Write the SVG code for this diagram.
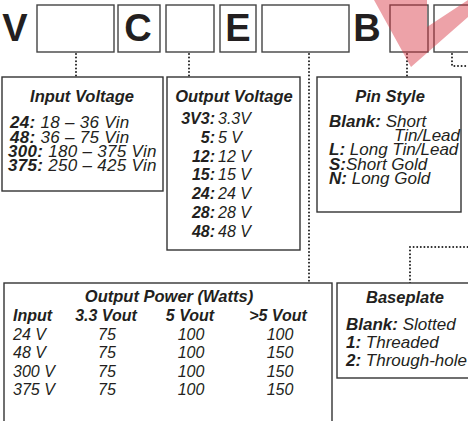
<svg xmlns="http://www.w3.org/2000/svg" width="468" height="421" viewBox="0 0 468 421">
<style>
.box{fill:#fff;stroke:#333;stroke-width:1.4}
.tb{fill:none;stroke:#444;stroke-width:1.4}
.big{font-family:"Liberation Sans",Arial,sans-serif;font-weight:bold;font-size:38px;fill:#231f20;text-anchor:middle}
.t{font-family:"Liberation Sans",Arial,sans-serif;font-size:16px;fill:#231f20}
.l{font-size:17px}
.ti{font-weight:bold;font-style:italic;font-size:16.5px;text-anchor:middle}
.b{font-weight:bold;font-style:italic}
.i{font-style:italic}
.m{text-anchor:middle}
.e{text-anchor:end}
.dot{fill:none;stroke:#222;stroke-width:2;stroke-dasharray:0 3.6;stroke-linecap:round}
</style>
<g id="code">
<text class="big" x="15" y="41">V</text>
<rect class="tb" x="37" y="5" width="77" height="47"/>
<rect class="tb" x="118" y="5" width="42" height="47"/>
<text class="big" x="138" y="41">C</text>
<rect class="tb" x="166" y="5" width="48" height="47"/>
<rect class="tb" x="220" y="5" width="36" height="47"/>
<text class="big" x="238" y="41">E</text>
<rect class="tb" x="262" y="5" width="87" height="47"/>
<text class="big" x="367" y="41">B</text>
<rect class="tb" x="390" y="5" width="38" height="47"/>
<rect class="tb" x="434" y="5" width="40" height="47"/>
</g>
<g id="connectors">
<path class="dot" d="M76 54V77"/>
<path class="dot" d="M189 54V77"/>
<path class="dot" d="M309 54V283"/>
<path class="dot" d="M407 54V77"/>
<path class="dot" d="M452 54V66H468"/>
<path class="dot" d="M410 283V247H468"/>
</g>
<g id="input-voltage">
<rect class="box" x="2" y="77" width="161" height="114"/>
<text class="t ti" x="82" y="102">Input Voltage</text>
<text class="t l" x="10" y="128" letter-spacing="0.3"><tspan class="b">24:</tspan><tspan class="i"> 18 – 36 Vin</tspan></text>
<text class="t l" x="10" y="142.5" letter-spacing="0.3"><tspan class="b">48:</tspan><tspan class="i"> 36 – 75 Vin</tspan></text>
<text class="t l" x="8" y="156.5" letter-spacing="0.3"><tspan class="b">300:</tspan><tspan class="i"> 180 – 375 Vin</tspan></text>
<text class="t l" x="8" y="171" letter-spacing="0.3"><tspan class="b">375:</tspan><tspan class="i"> 250 – 425 Vin</tspan></text>
</g>
<g id="output-voltage">
<rect class="box" x="167" y="77" width="133" height="173"/>
<text class="t ti" x="234" y="102">Output Voltage</text>
<text class="t b e" x="215" y="124">3V3:</text><text class="t i" x="218" y="124">3.3V</text>
<text class="t b e" x="215" y="143">5:</text><text class="t i" x="218" y="143">5 V</text>
<text class="t b e" x="215" y="161.5">12:</text><text class="t i" x="218" y="161.5">12 V</text>
<text class="t b e" x="215" y="180">15:</text><text class="t i" x="218" y="180">15 V</text>
<text class="t b e" x="215" y="199">24:</text><text class="t i" x="218" y="199">24 V</text>
<text class="t b e" x="215" y="218">28:</text><text class="t i" x="218" y="218">28 V</text>
<text class="t b e" x="215" y="237">48:</text><text class="t i" x="218" y="237">48 V</text>
</g>
<g id="pin-style">
<rect class="box" x="317" y="77" width="144" height="135"/>
<text class="t ti" x="390" y="102">Pin Style</text>
<text class="t l" x="329" y="127"><tspan class="b">Blank:</tspan><tspan class="i"> Short</tspan></text>
<text class="t l i" x="394" y="141">Tin/Lead</text>
<text class="t l" x="329" y="155"><tspan class="b">L:</tspan><tspan class="i"> Long Tin/Lead</tspan></text>
<text class="t l" x="329" y="169.5"><tspan class="b">S:</tspan><tspan class="i">Short Gold</tspan></text>
<text class="t l" x="329" y="184"><tspan class="b">N:</tspan><tspan class="i"> Long Gold</tspan></text>
</g>
<g id="output-power">
<rect class="box" x="4" y="283" width="328" height="150"/>
<text class="t ti" x="169" y="302" font-size="17">Output Power (Watts)</text>
<text class="t b" x="13" y="321">Input</text>
<text class="t b m" x="106" y="321">3.3 Vout</text>
<text class="t b m" x="190" y="321">5 Vout</text>
<text class="t b m" x="278" y="321">&gt;5 Vout</text>
<text class="t i" x="13" y="340">24 V</text><text class="t i m" x="107" y="340">75</text><text class="t i m" x="191" y="340">100</text><text class="t i m" x="280" y="340">100</text>
<text class="t i" x="13" y="358">48 V</text><text class="t i m" x="107" y="358">75</text><text class="t i m" x="191" y="358">100</text><text class="t i m" x="280" y="358">150</text>
<text class="t i" x="13" y="377">300 V</text><text class="t i m" x="107" y="377">75</text><text class="t i m" x="191" y="377">100</text><text class="t i m" x="280" y="377">150</text>
<text class="t i" x="13" y="395">375 V</text><text class="t i m" x="107" y="395">75</text><text class="t i m" x="191" y="395">100</text><text class="t i m" x="280" y="395">150</text>
</g>
<g id="baseplate">
<rect class="box" x="337" y="283" width="140" height="95"/>
<text class="t ti" x="405" y="303">Baseplate</text>
<text class="t l" x="346" y="330"><tspan class="b">Blank:</tspan><tspan class="i"> Slotted</tspan></text>
<text class="t l" x="346" y="348"><tspan class="b">1:</tspan><tspan class="i"> Threaded</tspan></text>
<text class="t l" x="346" y="366"><tspan class="b">2:</tspan><tspan class="i"> Through-hole</tspan></text>
</g>
<polygon points="374,0 427,0 427,27 468,0 468,17 411,67" fill="#d8303f" fill-opacity="0.45"/>
</svg>
